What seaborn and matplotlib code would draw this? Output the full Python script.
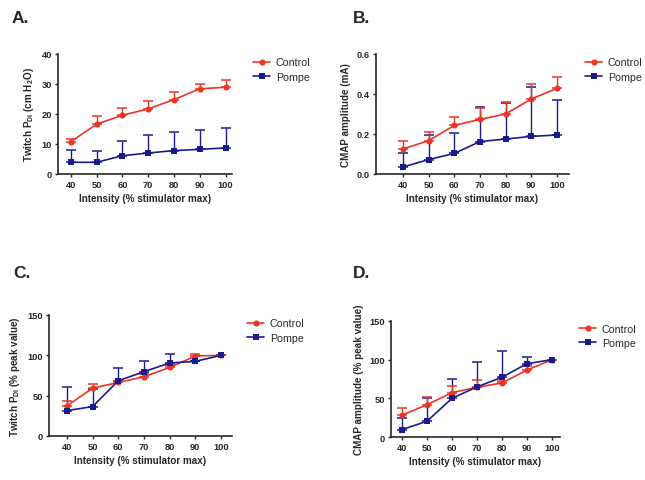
import pandas as pd
import matplotlib.pyplot as plt
import seaborn as sns
import numpy as np

sns.set_style("ticks")
plt.rcParams['font.family'] = ['Liberation Sans', 'DejaVu Sans']
plt.rcParams['mathtext.fontset'] = 'custom'
plt.rcParams['mathtext.rm'] = 'Liberation Sans:bold'
plt.rcParams['mathtext.bf'] = 'Liberation Sans:bold'

# Intensidade do estimulador (% max)
intensity = [40, 50, 60, 70, 80, 90, 100]

# A. Twitch PDI (cm H2O)
a_ctrl = [10.8, 16.6, 19.6, 21.7, 24.8, 28.4, 28.9]
a_ctrl_top = [11.7, 19.2, 22.1, 24.3, 27.4, 29.9, 31.3]
a_pomp = [3.9, 3.9, 6.1, 7.0, 7.8, 8.2, 8.7]
a_pomp_top = [7.9, 7.8, 11.1, 12.9, 14.1, 14.6, 15.4]

# B. CMAP amplitude (mA)
b_ctrl = [0.125, 0.167, 0.243, 0.273, 0.300, 0.375, 0.428]
b_ctrl_top = [0.163, 0.208, 0.285, 0.330, 0.358, 0.448, 0.487]
b_pomp = [0.035, 0.072, 0.103, 0.162, 0.175, 0.188, 0.195]
b_pomp_top = [0.105, 0.195, 0.205, 0.333, 0.355, 0.435, 0.370]

# C. Twitch PDI (% peak)
c_ctrl = [37.3, 59.3, 66.4, 73.4, 85.0, 99.2, 100]
c_ctrl_top = [43.6, 65.0, 68.5, 77.0, 88.0, 102.0, 100]
c_pomp = [31.5, 36.5, 68.5, 79.7, 90.5, 92.5, 100]
c_pomp_top = [60.6, 58.0, 83.8, 92.5, 101.7, 93.5, 100]

# D. CMAP amplitude (% peak)
d_ctrl = [28.3, 41.7, 57.4, 64.3, 69.9, 86.5, 100]
d_ctrl_top = [37.0, 51.3, 65.6, 73.9, 72.0, 91.7, 100]
d_pomp = [9.6, 20.4, 50.0, 64.8, 77.4, 94.8, 100]
d_pomp_top = [24.3, 50.4, 75.6, 97.4, 111.7, 103.5, 100]

RED = '#EC3326'
BLUE = '#1B1A8A'
FS = 6.7


def monta_df(ctrl, pomp):
    return pd.DataFrame({
        'x': intensity * 2,
        'y': list(ctrl) + list(pomp),
        'grupo': ['Control'] * len(ctrl) + ['Pompe'] * len(pomp),
    })


def painel(fig, rect, ctrl, ctrl_top, pomp, pomp_top, ylabel, yticks,
           yfmt, xlim, letra, letra_pos, leg_pos):
    ax = fig.add_axes(rect)
    # barras de erro (só para cima)
    for media, topo, cor in [(pomp, pomp_top, BLUE), (ctrl, ctrl_top, RED)]:
        media = np.array(media)
        topo = np.array(topo)
        ax.errorbar(intensity, media, yerr=[np.zeros_like(media), topo - media],
                    fmt='none', ecolor=cor, elinewidth=1.0, capsize=3.8,
                    capthick=1.1, zorder=2)
    sns.lineplot(data=monta_df(ctrl, pomp), x='x', y='y', hue='grupo',
                 style='grupo', markers={'Control': 'o', 'Pompe': 's'},
                 dashes=False, palette={'Control': RED, 'Pompe': BLUE},
                 linewidth=1.2, markersize=4.4, markeredgewidth=0,
                 errorbar=None, ax=ax, zorder=3)
    ax.set_xlim(*xlim)
    ax.set_ylim(yticks[0], yticks[-1])
    ax.set_xticks(intensity)
    ax.set_yticks(yticks)
    ax.set_yticklabels([yfmt.format(v) for v in yticks])
    ax.tick_params(labelsize=FS, width=1.0, length=2.5, pad=2)
    for t in ax.get_xticklabels() + ax.get_yticklabels():
        t.set_fontweight('bold')
    for s in ['left', 'bottom']:
        ax.spines[s].set_linewidth(1.2)
    sns.despine(ax=ax)
    ax.set_xlabel('Intensity (% stimulator max)', fontsize=FS + 0.4,
                  fontweight='bold', labelpad=3)
    ax.set_ylabel(ylabel, fontsize=FS + 0.4, fontweight='bold', labelpad=4)
    h, l = ax.get_legend_handles_labels()
    ax.legend(h, l, loc='center left', bbox_to_anchor=leg_pos,
              bbox_transform=fig.transFigure, frameon=False, fontsize=FS + 1.0,
              handlelength=1.6, handletextpad=0.5, labelspacing=0.4,
              borderpad=0)
    fig.text(letra_pos[0], letra_pos[1], letra, fontsize=12.5, fontweight='bold',
             va='baseline')
    return ax


W, H = 645, 481
fig = plt.figure(figsize=(W / 100, H / 100), dpi=100)


def r(x0, y0, x1, y1):
    return [x0 / W, 1 - y1 / H, (x1 - x0) / W, (y1 - y0) / H]


painel(fig, r(58, 55, 232, 175), a_ctrl, a_ctrl_top, a_pomp, a_pomp_top,
       r'Twitch P$_{\mathrm{DI}}$ (cm H$_{\mathrm{2}}$O)', [0, 10, 20, 30, 40],
       '{:.0f}', (35, 102.5), 'A.', (12 / W, 1 - 23 / H), (248 / W, 1 - 70.5 / H))
painel(fig, r(376, 55, 569, 175), b_ctrl, b_ctrl_top, b_pomp, b_pomp_top,
       'CMAP amplitude (mA)', [0.0, 0.2, 0.4, 0.6],
       '{:.1f}', (29.5, 104.7), 'B.', (353 / W, 1 - 23 / H), (580 / W, 1 - 70.5 / H))
painel(fig, r(49, 316, 232, 437), c_ctrl, c_ctrl_top, c_pomp, c_pomp_top,
       r'Twitch P$_{\mathrm{DI}}$ (% peak value)', [0, 50, 100, 150],
       '{:.0f}', (33, 104.3), 'C.', (13 / W, 1 - 278 / H), (242 / W, 1 - 331.5 / H))
painel(fig, r(391, 322, 560, 438), d_ctrl, d_ctrl_top, d_pomp, d_pomp_top,
       'CMAP amplitude (% peak value)', [0, 50, 100, 150],
       '{:.0f}', (35.6, 103.2), 'D.', (353 / W, 1 - 278 / H), (574 / W, 1 - 337 / H))

fig.savefig('out.png', dpi=100)
